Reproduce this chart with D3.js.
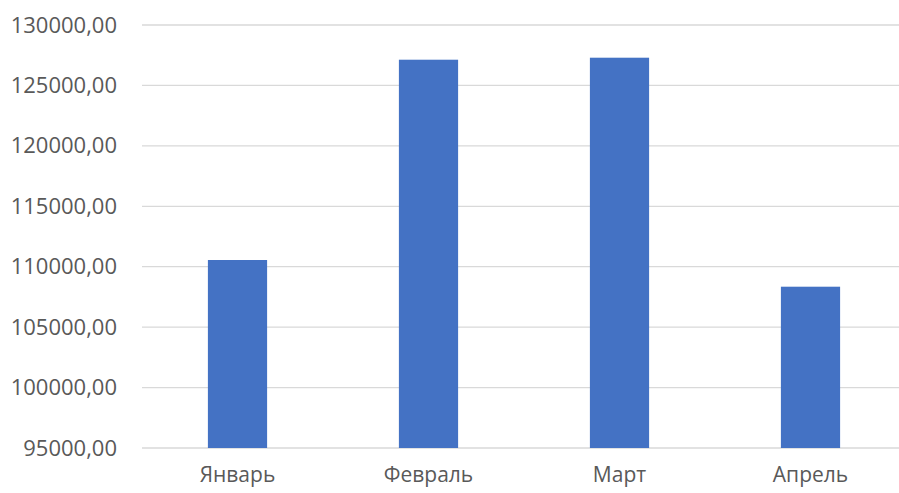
<!DOCTYPE html>
<html>
<head>
<meta charset="utf-8">
<script src="https://cdn.jsdelivr.net/npm/d3@7"></script>
<style>
  body { margin: 0; background: #fff; }
  .axis text { font-family: "Open Sans", sans-serif; fill: #595959; }
</style>
</head>
<body>
<svg id="chart"></svg>
<script>
// months and values
const months = ["Январь", "Февраль", "Март", "Апрель"];
const values = [110555, 127128, 127294, 108346];
const yTicks = [95000, 100000, 105000, 110000, 115000, 120000, 125000, 130000];

const width = 899, height = 493;
const margin = {top: 25, right: -7, bottom: 45, left: 142};
const innerW = width - margin.left - margin.right;
const innerH = height - margin.top - margin.bottom;

const svg = d3.select("#chart")
    .attr("width", width)
    .attr("height", height);

const chart = svg.append("g")
    .attr("transform", `translate(${margin.left},${margin.top})`);

const xScale = d3.scaleBand()
    .domain(months)
    .range([0, innerW])
    .paddingInner(0.69)
    .paddingOuter(0.345);

const yScale = d3.scaleLinear()
    .domain([95000, 130000])
    .range([innerH, 0]);

// gridlines
chart.append("g")
    .selectAll("line")
    .data(yTicks)
    .join("line")
    .attr("x1", 0)
    .attr("x2", width - margin.left)
    .attr("y1", d => yScale(d))
    .attr("y2", d => yScale(d))
    .attr("stroke", "#d9d9d9")
    .attr("stroke-width", 1.3);

// y axis labels
const yAxis = d3.axisLeft(yScale)
    .tickValues(yTicks)
    .tickSize(0)
    .tickPadding(25)
    .tickFormat(d => d3.format("d")(d) + ",00");

chart.append("g")
    .attr("class", "axis y-axis")
    .call(yAxis)
    .call(g => g.select(".domain").remove())
    .selectAll("text")
    .style("font-size", "22px");

// bars
chart.selectAll("rect.bar")
    .data(values)
    .join("rect")
    .attr("class", "bar")
    .attr("x", (d, i) => xScale(months[i]))
    .attr("y", d => yScale(d))
    .attr("width", xScale.bandwidth())
    .attr("height", d => innerH - yScale(d))
    .attr("fill", "#4472c4");

// x axis labels
const xAxis = d3.axisBottom(xScale)
    .tickSize(0)
    .tickPadding(19);

chart.append("g")
    .attr("class", "axis x-axis")
    .attr("transform", `translate(0,${innerH})`)
    .call(xAxis)
    .call(g => g.select(".domain").remove())
    .selectAll("text")
    .style("font-size", "21px");
</script>
</body>
</html>
